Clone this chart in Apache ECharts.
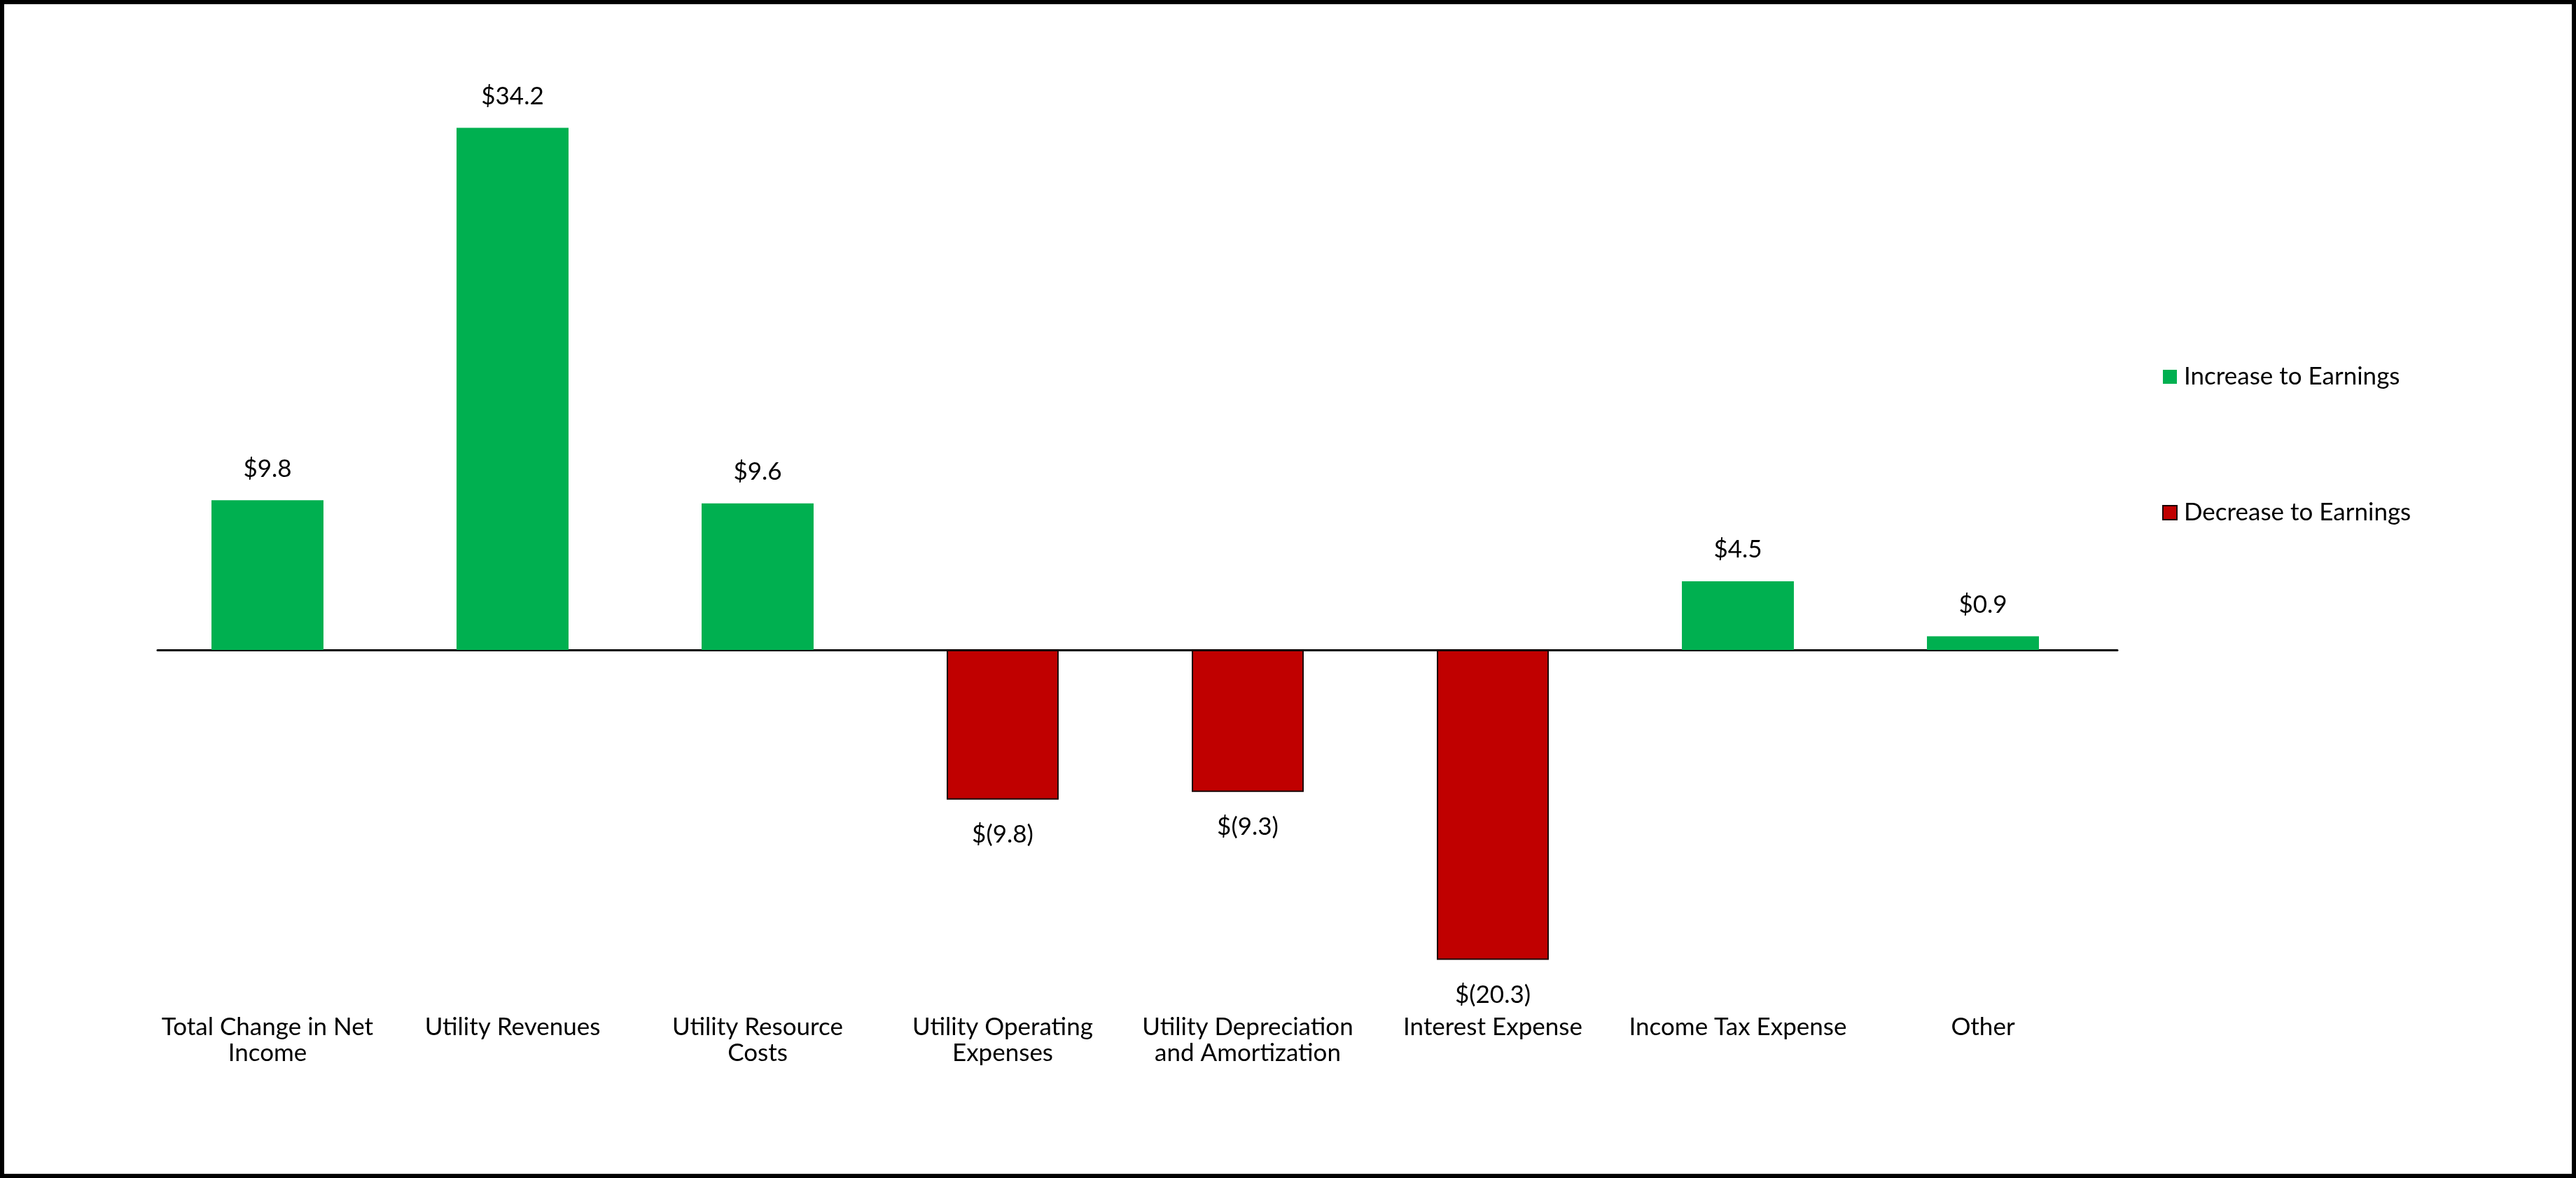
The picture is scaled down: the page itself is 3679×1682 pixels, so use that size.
<!DOCTYPE html>
<html>
<head>
<meta charset="utf-8">
<script src="https://cdn.jsdelivr.net/npm/echarts@6/dist/echarts.min.js"></script>
<style>
html,body{margin:0;padding:0;background:#fff;}
#chart{width:3679px;height:1682px;}
</style>
</head>
<body>
<div id="chart"></div>
<script>
var categories = ['Total Change in Net\nIncome', 'Utility Revenues', 'Utility Resource\nCosts', 'Utility Operating\nExpenses', 'Utility Depreciation\nand Amortization', 'Interest Expense', 'Income Tax Expense', 'Other'];
var increaseValues = [9.8, 34.2, 9.6, null, null, null, 4.5, 0.9];
var decreaseValues = [null, null, null, -9.8, -9.3, -20.3, null, null];
var seriesNames = ['Increase to Earnings', 'Decrease to Earnings'];

var FONT = 'Lato';
var FS = 35;
var YMIN = -23, YMAX = 38;

function fmt(p) {
  var v = p.value;
  if (v == null) return '';
  return v < 0 ? '$(' + Math.abs(v).toFixed(1) + ')' : '$' + v.toFixed(1);
}

var chart = echarts.init(document.getElementById('chart'));
chart.setOption({
  backgroundColor: '#ffffff',
  animation: false,
  textStyle: { fontFamily: FONT },
  graphic: [{
    type: 'rect', silent: true,
    shape: { x: 3, y: 3, width: 3673, height: 1676 },
    style: { fill: 'none', stroke: '#000', lineWidth: 6 }
  }],
  legend: {
    orient: 'vertical',
    left: 3083,
    top: 513,
    itemWidth: 20,
    itemHeight: 20,
    itemGap: 154,
    icon: 'rect',
    textStyle: { fontFamily: FONT, fontSize: FS, color: '#000', lineHeight: 40, padding: [0, 0, 0, 5] },
    data: seriesNames
  },
  grid: [
    { left: 207, width: 2800, top: 99.6, height: 1329.8 },
    { left: 225, width: 2799, top: 99.6, height: 1329.8 }
  ],
  xAxis: [{
    type: 'category', gridIndex: 0, data: categories,
    axisLine: { show: false, onZero: false },
    axisTick: { show: false },
    splitLine: { show: false },
    axisLabel: { fontFamily: FONT, fontSize: FS, color: '#000', lineHeight: 37, margin: 19, interval: 0 }
  }, {
    type: 'category', gridIndex: 1, data: categories,
    axisLine: { show: true, onZero: true, lineStyle: { color: '#000', width: 3 } },
    axisTick: { show: false },
    axisLabel: { show: false },
    splitLine: { show: false }
  }],
  yAxis: [{
    type: 'value', gridIndex: 0, min: YMIN, max: YMAX,
    axisLine: { show: false }, axisTick: { show: false }, axisLabel: { show: false }, splitLine: { show: false }
  }, {
    type: 'value', gridIndex: 1, min: YMIN, max: YMAX,
    axisLine: { show: false }, axisTick: { show: false }, axisLabel: { show: false }, splitLine: { show: false }
  }],
  series: [{
    name: seriesNames[0], type: 'bar', stack: 'total', barWidth: '45.7%',
    data: increaseValues,
    itemStyle: { color: '#00B050' },
    label: { show: true, position: 'top', distance: 25, lineHeight: 40, formatter: fmt, fontFamily: FONT, fontSize: FS, color: '#000' }
  }, {
    name: seriesNames[1], type: 'bar', stack: 'total', barWidth: '45.7%',
    data: decreaseValues,
    itemStyle: { color: '#C00000', borderColor: '#1a0000', borderWidth: 2 },
    label: { show: true, position: 'bottom', distance: 30, lineHeight: 40, formatter: fmt, fontFamily: FONT, fontSize: FS, color: '#000' }
  }]
});
</script>
</body>
</html>
